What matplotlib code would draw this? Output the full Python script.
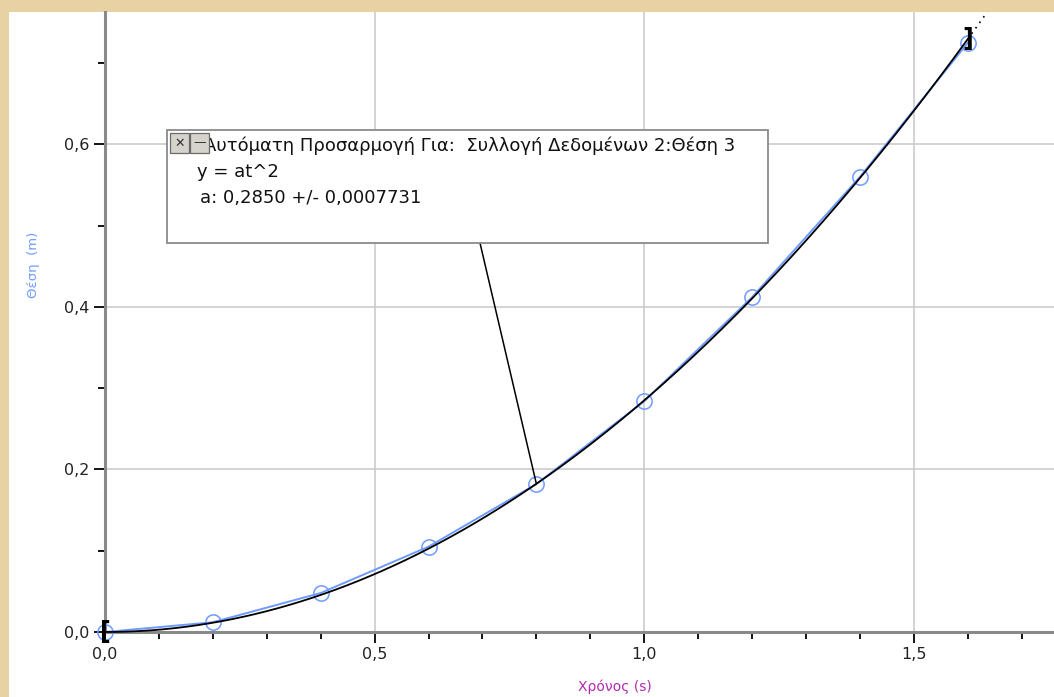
import numpy as np
import matplotlib.pyplot as plt
from matplotlib.patches import Rectangle
from matplotlib.ticker import MultipleLocator, FuncFormatter

# measured positions (time in s, position in m)
t_data = [0.0, 0.2, 0.4, 0.6, 0.8, 1.0, 1.2, 1.4, 1.6]
pos_data = [0.0, 0.012, 0.048, 0.105, 0.182, 0.284, 0.412, 0.560, 0.725]

# automatic fit y = a t^2
a_fit = 0.2850
a_err = 0.0007731
fit_start, fit_end = 0.0, 1.6

fit_title = "Αυτόματη Προσαρμογή Για:  Συλλογή Δεδομένων 2:Θέση 3"
fit_eq = "y = at^2"
x_label = "Χρόνος (s)"
y_label = "Θέση  (m)"

PAPER = "#e8d2a4"
BLUE = "#6e9bff"


def comma(v, pos):
    return f"{v:.1f}".replace(".", ",")


fig = plt.figure(figsize=(10.54, 6.97), dpi=100, facecolor=PAPER)
W, H = 1054, 697


def fx(px):
    return px / W


def fy(py):
    return 1 - py / H


# white page area behind the plot
fig.patches.append(Rectangle((fx(9), 0), 1 - fx(9), fy(12),
                             transform=fig.transFigure, facecolor="white",
                             edgecolor="none", zorder=-10))

ax = fig.add_axes([fx(105), fy(632), fx(W - 105), (632 - 12) / H])
ax.patch.set_alpha(0)
ax.set_xlim(0, 1.76)
ax.set_ylim(0, 0.763)

for side in ("top", "right"):
    ax.spines[side].set_visible(False)
for side in ("left", "bottom"):
    ax.spines[side].set_color("#8a8a8a")
    ax.spines[side].set_linewidth(2.2)

ax.xaxis.set_major_locator(MultipleLocator(0.5))
ax.xaxis.set_minor_locator(MultipleLocator(0.1))
ax.yaxis.set_major_locator(MultipleLocator(0.2))
ax.yaxis.set_minor_locator(MultipleLocator(0.1))
ax.xaxis.set_major_formatter(FuncFormatter(comma))
ax.yaxis.set_major_formatter(FuncFormatter(comma))
ax.tick_params(which="major", direction="out", length=8, width=1.3,
               color="black", labelsize=11.5, labelcolor="#222222", pad=3)
ax.tick_params(which="minor", direction="out", length=5, width=1.3, color="black")
ax.grid(True, which="major", color="#c8c8c8", linewidth=1.1)
ax.set_axisbelow(True)

ax.set_xlabel(x_label, color="#b02cb0", fontsize=10)
ax.xaxis.set_label_coords(0.537, -0.077)
ax.set_ylabel(y_label, color=BLUE, fontsize=9.5)
ax.yaxis.set_label_coords(-0.068, 0.592)

# data: light blue line with open circles
ax.plot(t_data, pos_data, color=BLUE, linewidth=1.4, zorder=3, clip_on=False)
ax.plot(t_data, pos_data, linestyle="none", marker="o", markersize=11,
        markerfacecolor="none", markeredgecolor=BLUE, markeredgewidth=1.1,
        zorder=4, clip_on=False)

# fit curve and its dotted extension
tt = np.linspace(fit_start, fit_end, 300)
ax.plot(tt, a_fit * tt ** 2, color="black", linewidth=1.3, zorder=5, clip_on=False)
t_top = np.sqrt(ax.get_ylim()[1] / a_fit)
te = np.linspace(fit_end, t_top, 20)
ax.plot(te, a_fit * te ** 2, color="black", linewidth=1.2, linestyle=(0, (1, 3)),
        zorder=5)

# range brackets at both ends of the fit
ax.text(fit_start, a_fit * fit_start ** 2, "[", fontsize=17, fontweight="bold",
        ha="center", va="center", zorder=6, clip_on=False)
ax.text(fit_end, a_fit * fit_end ** 2, "]", fontsize=17, fontweight="bold",
        ha="center", va="center", zorder=6, clip_on=False)

# fit info box with leader line to the data
box_x0, box_y0, box_x1, box_y1 = 167, 130, 768, 243

t_mid = t_data[4]
ax.annotate("", xy=(t_mid, a_fit * t_mid ** 2), xycoords="data",
            xytext=(fx(480), fy(box_y1)), textcoords="figure fraction",
            arrowprops=dict(arrowstyle="-", color="black", linewidth=1.1,
                            shrinkA=0, shrinkB=0), zorder=7)
fig.patches.append(Rectangle((fx(box_x0), fy(box_y1)), fx(box_x1 - box_x0),
                             (box_y1 - box_y0) / H, transform=fig.transFigure,
                             facecolor="white", edgecolor="#8a8a8a",
                             linewidth=1.3, zorder=8))
fig.text(fx(204), fy(146), fit_title, fontsize=13, va="center", ha="left",
         color="#111111", zorder=9)
fig.text(fx(197), fy(172), fit_eq, fontsize=13, va="center", ha="left",
         color="#111111", zorder=9)
fig.text(fx(200), fy(198),
         f"a: {a_fit:.4f} +/- {a_err:.7f}".replace(".", ","),
         fontsize=13, va="center", ha="left", color="#111111", zorder=9)

# close / minimise buttons
for bx, glyph in ((170, "✕"), (190, "—")):
    fig.patches.append(Rectangle((fx(bx), fy(153)), fx(19), 20 / H,
                                 transform=fig.transFigure, facecolor="#d6d3cc",
                                 edgecolor="#6a6a6a", linewidth=0.9, zorder=10))
    fig.text(fx(bx + 9.5), fy(143), glyph, fontsize=9, ha="center", va="center",
             color="#333333", zorder=11)

fig.savefig("out.png", dpi=100, facecolor=fig.get_facecolor())
